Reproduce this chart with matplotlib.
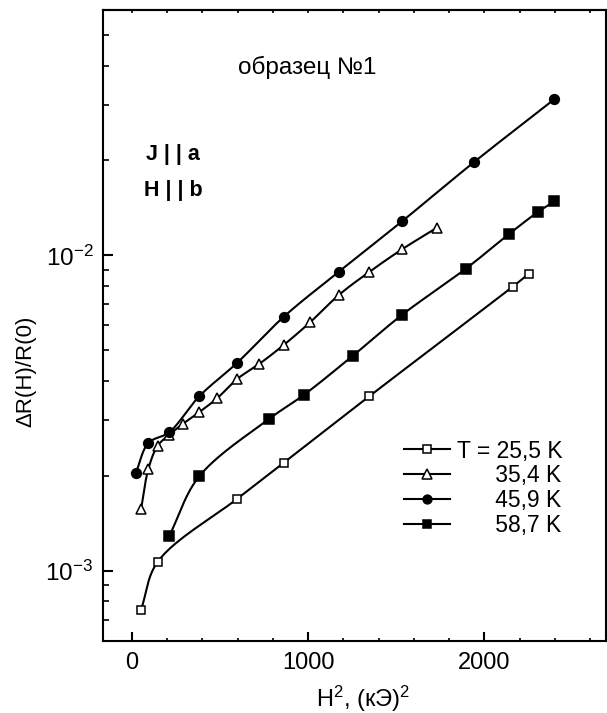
import numpy as np
import matplotlib
matplotlib.use('Agg')
import matplotlib.pyplot as plt

plt.rcParams['font.family'] = ['Liberation Sans', 'DejaVu Sans']
plt.rcParams['mathtext.fontset'] = 'custom'
plt.rcParams['mathtext.rm'] = 'Liberation Sans'
plt.rcParams['mathtext.it'] = 'Liberation Sans:italic'
plt.rcParams['font.size'] = 16.5

# данные: H^2 (кЭ^2) и ΔR(H)/R(0)
h2_255 = [53, 147, 597, 862, 1346, 2161, 2253]
r_255 = [7.53e-4, 1.067e-3, 1.689e-3, 2.20e-3, 3.57e-3, 7.96e-3, 8.75e-3]

h2_354 = [53, 94, 147, 213, 289, 382, 486, 599, 724, 864, 1011, 1176, 1346, 1535, 1732]
r_354 = [1.57e-3, 2.10e-3, 2.49e-3, 2.70e-3, 2.92e-3, 3.18e-3, 3.53e-3, 4.06e-3,
         4.53e-3, 5.21e-3, 6.13e-3, 7.50e-3, 8.85e-3, 1.047e-2, 1.225e-2]

h2_459 = [23, 94, 213, 382, 599, 864, 1173, 1535, 1940, 2397]
r_459 = [2.04e-3, 2.54e-3, 2.75e-3, 3.57e-3, 4.57e-3, 6.40e-3, 8.86e-3,
         1.285e-2, 1.973e-2, 3.128e-2]

h2_587 = [213, 382, 779, 979, 1255, 1535, 1896, 2140, 2303, 2397]
r_587 = [1.29e-3, 1.99e-3, 3.03e-3, 3.62e-3, 4.81e-3, 6.49e-3, 9.08e-3,
         1.169e-2, 1.372e-2, 1.483e-2]

labels = ['T = 25,5 K', '      35,4 K', '      45,9 K', '      58,7 K']


def smooth(x, y, n=30):
    # центростремительный сплайн Катмулла-Рома (только для линии)
    P = np.column_stack([np.asarray(x, float) * 0.176, np.log10(y) * 315])
    P = np.vstack([2 * P[0] - P[1], P, 2 * P[-1] - P[-2]])
    out = []
    for i in range(1, len(P) - 2):
        p0, p1, p2, p3 = P[i - 1:i + 3]
        t0 = 0.0
        t1 = t0 + np.linalg.norm(p1 - p0) ** 0.5
        t2 = t1 + np.linalg.norm(p2 - p1) ** 0.5
        t3 = t2 + np.linalg.norm(p3 - p2) ** 0.5
        t = np.linspace(t1, t2, n, endpoint=False)[:, None]
        a1 = (t1 - t) / (t1 - t0) * p0 + (t - t0) / (t1 - t0) * p1
        a2 = (t2 - t) / (t2 - t1) * p1 + (t - t1) / (t2 - t1) * p2
        a3 = (t3 - t) / (t3 - t2) * p2 + (t - t2) / (t3 - t2) * p3
        b1 = (t2 - t) / (t2 - t0) * a1 + (t - t0) / (t2 - t0) * a2
        b2 = (t3 - t) / (t3 - t1) * a2 + (t - t1) / (t3 - t1) * a3
        c = (t2 - t) / (t2 - t1) * b1 + (t - t1) / (t2 - t1) * b2
        out.append(c)
    out.append(P[-2][None, :])
    out = np.vstack(out)
    return out[:, 0] / 0.176, 10 ** (out[:, 1] / 315)


fig = plt.figure(figsize=(6.07, 7.13), dpi=100)
ax = fig.add_axes([0.1697, 0.1014, 0.8287, 0.8846])

series = [
    (h2_255, r_255, 's', 'white', 6.2),
    (h2_354, r_354, '^', 'white', 7.8),
    (h2_459, r_459, 'o', 'black', 7.0),
    (h2_587, r_587, 's', 'black', 6.5),
]
handles = []
for (x, y, m, fc, ms), lab in zip(series, labels):
    sx, sy = smooth(x, y)
    ax.plot(sx, sy, color='black', lw=1.5, zorder=2)
    ax.plot(x, y, ls='none', marker=m, mfc=fc, mec='black', mew=1.1, ms=ms, zorder=3)
    h, = ax.plot([], [], color='black', lw=1.5, marker=m, mfc=fc, mec='black',
                 mew=1.1, ms=ms * 0.9)
    handles.append(h)

ax.set_yscale('log')
ax.set_xlim(-163, 2690)
ax.set_ylim(6.0e-4, 6.0e-2)
ax.set_xticks([0, 1000, 2000])
ax.set_xticks(np.arange(0, 2700, 200), minor=True)

for s in ax.spines.values():
    s.set_linewidth(1.5)

ax.tick_params(axis='x', which='major', direction='in', length=6.5, width=1.5,
               top=False, bottom=True, pad=8, labelsize=17)
ax.tick_params(axis='x', which='minor', direction='in', length=2, width=1.2,
               top=False, bottom=True)
ax.tick_params(axis='y', which='major', direction='in', length=7.5, width=1.5,
               right=False, pad=7, labelsize=17.5)
ax.tick_params(axis='y', which='minor', direction='in', length=4.5, width=1.2,
               right=False)

top = ax.secondary_xaxis('top')
top.set_xticks(np.arange(0, 2700, 200))
top.tick_params(direction='in', length=2.5, width=1.2, labeltop=False)
top.spines['top'].set_linewidth(1.5)

ax.set_xlabel('H$^2$, (кЭ)$^2$', fontsize=17)
ax.xaxis.set_label_coords(0.517, -0.069)
ax.text(-0.153, 0.4265, 'ΔR(H)/R(0)', transform=ax.transAxes, rotation=90,
        ha='center', va='center', fontsize=16)

ax.text(0.405, 0.898, 'образец №1', transform=ax.transAxes, ha='center',
        va='baseline', fontsize=17.5)
ax.text(0.139, 0.762, 'J | | a', transform=ax.transAxes, ha='center',
        va='baseline', fontsize=15.5, fontweight='bold')
ax.text(0.139, 0.705, 'H | | b', transform=ax.transAxes, ha='center',
        va='baseline', fontsize=15.5, fontweight='bold')

ax.legend(handles, labels, loc='upper left', bbox_to_anchor=(0.598, 0.319),
          frameon=False, borderpad=0, borderaxespad=0, handlelength=2.0,
          handletextpad=0.3, labelspacing=0.08, numpoints=1, fontsize=16.5)

fig.savefig('out.png', dpi=100)
